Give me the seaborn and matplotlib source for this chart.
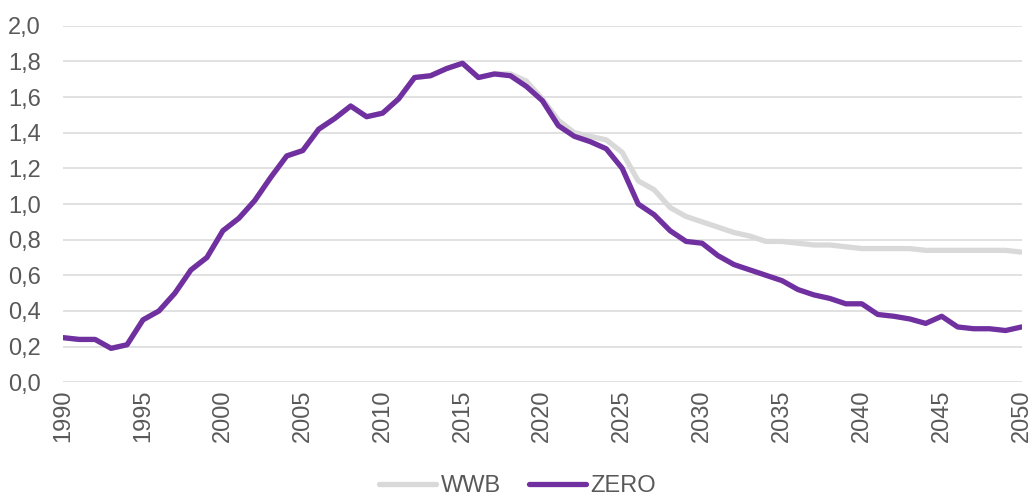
import matplotlib
matplotlib.use("Agg")
import matplotlib.pyplot as plt
import matplotlib.ticker as mticker
import seaborn as sns
import pandas as pd

# --- data ---
years = list(range(1990, 2051))

zero = [0.25, 0.24, 0.24, 0.19, 0.21, 0.35, 0.40, 0.50, 0.63, 0.70,
        0.85, 0.92, 1.02, 1.15, 1.27, 1.30, 1.42, 1.48, 1.55, 1.49,
        1.51, 1.59, 1.71, 1.72, 1.76, 1.79, 1.71, 1.73, 1.72, 1.66,
        1.58, 1.44, 1.38, 1.35, 1.31, 1.20, 1.00, 0.94, 0.85, 0.79,
        0.78, 0.71, 0.66, 0.63, 0.60, 0.57, 0.52, 0.49, 0.47, 0.44,
        0.44, 0.38, 0.37, 0.355, 0.33, 0.37, 0.31, 0.30, 0.30, 0.29,
        0.31]

wwb = [0.25, 0.24, 0.24, 0.19, 0.21, 0.35, 0.40, 0.50, 0.63, 0.70,
       0.85, 0.92, 1.02, 1.15, 1.27, 1.30, 1.42, 1.48, 1.55, 1.49,
       1.51, 1.59, 1.71, 1.72, 1.76, 1.79, 1.71, 1.73, 1.73, 1.69,
       1.59, 1.47, 1.40, 1.38, 1.36, 1.29, 1.13, 1.08, 0.98, 0.93,
       0.90, 0.87, 0.84, 0.82, 0.79, 0.79, 0.78, 0.77, 0.77, 0.76,
       0.75, 0.75, 0.75, 0.75, 0.74, 0.74, 0.74, 0.74, 0.74, 0.74,
       0.73]

series_names = ["WWB", "ZERO"]
series_colors = {"WWB": "#D9D9D9", "ZERO": "#7030A0"}

df = pd.concat([
    pd.DataFrame({"jaar": years, "waarde": wwb, "scenario": "WWB"}),
    pd.DataFrame({"jaar": years, "waarde": zero, "scenario": "ZERO"}),
])

# --- plotting ---
sns.set_style("white")
plt.rcParams["font.family"] = ["Liberation Sans", "DejaVu Sans"]
text_col = "#595959"

fig = plt.figure(figsize=(10.35, 4.97), dpi=100)
ax = fig.add_axes([0.061, 0.231, 0.926, 0.717])

sns.lineplot(data=df, x="jaar", y="waarde", hue="scenario",
             hue_order=series_names, palette=series_colors,
             linewidth=3.8, ax=ax, legend=True)

ax.set_xlim(1990, 2050)
ax.set_ylim(0, 2.0)
ax.set_xticks(range(1990, 2051, 5))
ax.set_yticks([i * 0.2 for i in range(11)])
ax.yaxis.set_major_formatter(
    mticker.FuncFormatter(lambda v, p: f"{v:.1f}".replace(".", ",")))
ax.tick_params(axis="x", labelrotation=90, labelsize=17, colors=text_col,
               length=0, pad=5)
ax.tick_params(axis="y", labelsize=17, colors=text_col, length=0, pad=16)

ax.grid(axis="y", color="#D9D9D9", linewidth=1.1)
ax.set_axisbelow(True)
for s in ax.spines.values():
    s.set_visible(False)
ax.set_xlabel("")
ax.set_ylabel("")

leg = ax.legend(loc="center", bbox_to_anchor=(0.5, 0.022),
                bbox_transform=fig.transFigure, ncol=2,
                frameon=False, fontsize=17, handlelength=2.4,
                handletextpad=0.2, columnspacing=1.2)
for t in leg.get_texts():
    t.set_color(text_col)

fig.savefig("out.png", dpi=100)
